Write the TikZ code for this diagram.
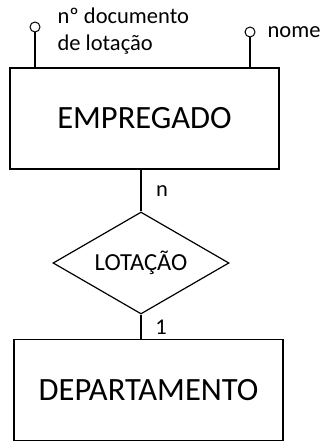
\documentclass[tikz,border=0pt]{standalone}
\usepackage{fontspec}
\setmainfont{Carlito}
\usetikzlibrary{shapes.geometric}
\begin{document}
\begin{tikzpicture}[x=1pt,y=-1pt,
  line width=1.2pt,
  entity/.style={draw, rectangle, minimum width=269pt, minimum height=101pt, inner sep=0pt, font=\fontsize{32.5}{36}\selectfont},
  rel/.style={draw, diamond, aspect=1.73, minimum width=176pt, minimum height=102pt, inner sep=0pt, font=\fontsize{24.5}{28}\selectfont},
  attr/.style={draw, circle, minimum size=10pt, inner sep=0pt, line width=1pt, fill=white},
  lbl/.style={inner sep=0pt, font=\fontsize{22.5}{27}\selectfont}]
\useasboundingbox (0,0) rectangle (322,441);
\node[entity] (emp) at (144.5,118.5) {EMPREGADO};
\node[entity] (dep) at (148.5,390) {DEPARTAMENTO};
\node[rel] (lot) at (141,263) {LOTAÇÃO};
\node[attr] (a1) at (35,27) {};
\node[attr] (a2) at (250,32) {};
\draw (a1) -- (a1 |- emp.north);
\draw (a2) -- (a2 |- emp.north);
\node[lbl, anchor=base west, align=left] (t1) at (57,51) {nº documento\\de lotação};
\node[lbl, anchor=west] (t2) at (267,32) {nome};
\draw (lot.north) -- (lot.north |- emp.south);
\draw (lot.south) -- (lot.south |- dep.north);
\node[lbl] (n) at (162,191) {n};
\node[lbl] (one) at (161,327) {1};
\end{tikzpicture}
\end{document}
